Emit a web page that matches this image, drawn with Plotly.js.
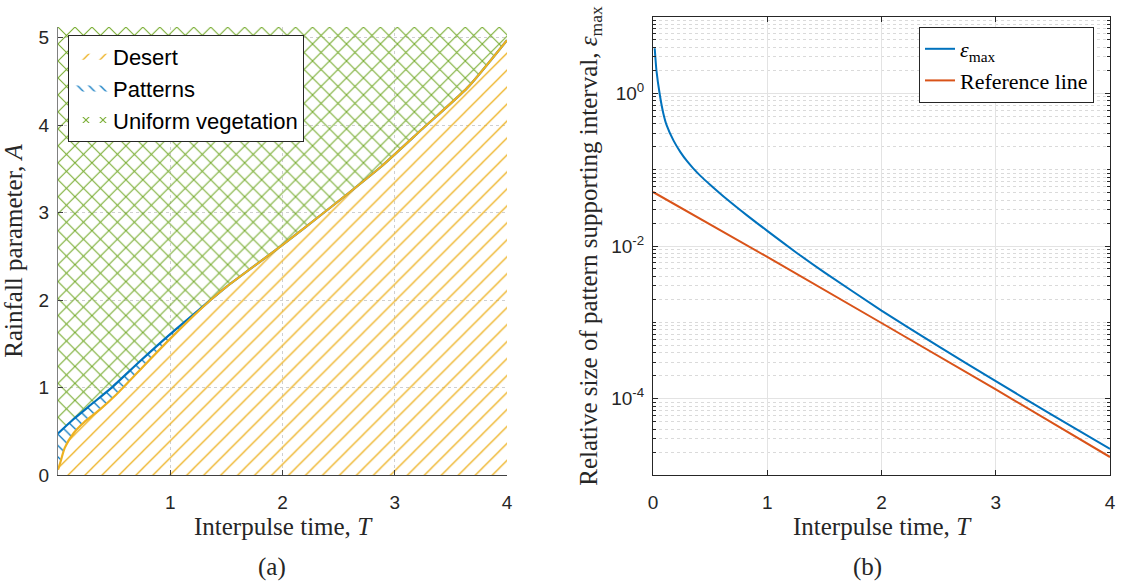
<!DOCTYPE html>
<html><head><meta charset="utf-8">
<script src="https://cdn.plot.ly/plotly-3.0.1.min.js"></script>
<style>html,body{margin:0;padding:0;background:#fff;} #chart{width:1122px;height:581px;}</style>
</head><body><div id="chart"></div>
<script>
// ---- Panel (a): phase diagram ----
const desertT = [0, 0.02, 0.06, 0.14, 0.23, 0.375, 0.52, 0.73, 1.0, 1.36, 1.5, 1.98, 2.43, 2.875, 3.25, 3.65, 4.0];
const desertA = [0.06, 0.14, 0.31, 0.48, 0.60, 0.75, 0.92, 1.20, 1.56, 2.0, 2.15, 2.61, 3.06, 3.52, 3.96, 4.43, 4.97];
const patternT = [0, 0.14, 0.29, 0.47, 0.73, 1.0, 1.36, 1.5, 1.98, 2.43, 2.875, 3.25, 3.65, 4.0];
const patternA = [0.475, 0.64, 0.80, 0.99, 1.30, 1.61, 2.0, 2.15, 2.61, 3.06, 3.52, 3.96, 4.43, 4.97];
const regionNames = ['Desert', 'Patterns', 'Uniform vegetation'];
const aRange = [0, 5.12];
const xTicksA = [1, 2, 3, 4];
const yTicksA = [0, 1, 2, 3, 4, 5];

// ---- Panel (b): relative size of pattern supporting interval ----
const epsT = [0.015, 0.03, 0.06, 0.09, 0.12, 0.18, 0.24, 0.3, 0.35, 0.42, 0.5, 0.65, 0.82, 1.0, 1.25, 1.5, 2.0, 2.5, 3.0, 3.5, 4.0];
const epsMax = [3.9, 2.0, 0.95, 0.55, 0.38, 0.24, 0.17, 0.128, 0.105, 0.0817, 0.0636, 0.0406, 0.02535, 0.0158, 0.0083, 0.00451, 0.001426, 0.000483, 0.0001694, 0.0000604, 0.00002195];
const refT = [0, 1, 2, 3, 4];
const refLine = [0.051, 0.0072, 0.00098, 0.000132, 0.0000172];
const xTicksB = [0, 1, 2, 3, 4];
const yTicksB = [1e-4, 1e-2, 1];
const yTickTextB = ['10<sup>-4</sup>', '10<sup>-2</sup>', '10<sup>0</sup>'];
const lineNames = ['<i>ε</i><sub>max</sub>', 'Reference line'];

const C = {blue: '#0072BD', orange: '#EDB120', green: '#77AC30', red: '#D95319', ink: '#262626'};
const serif = 'Liberation Serif, Times New Roman, serif';
const sans = 'Liberation Sans, Arial, sans-serif';

const minorB = [];
for (let p = -5; p <= 0; p++) for (let k = 1; k <= 9; k++) {
  const v = k * Math.pow(10, p);
  if (!yTicksB.some(t => Math.abs(t - v) / v < 1e-9)) minorB.push(v);
}
minorB.push(10);

const traces = [
  {x: desertT, y: desertA, xaxis: 'x', yaxis: 'y', mode: 'none', fill: 'tozeroy', line: {shape: 'spline', smoothing: 0.6},
   fillcolor: 'rgba(0,0,0,0)', fillpattern: {shape: '/', fgcolor: C.orange, bgcolor: 'rgba(0,0,0,0)', size: 12, solidity: 0.11},
   name: regionNames[0], legend: 'legend', hoverinfo: 'skip'},
  {x: patternT, y: patternA, xaxis: 'x', yaxis: 'y', mode: 'none', fill: 'tonexty', line: {shape: 'spline', smoothing: 0.6},
   fillcolor: 'rgba(0,0,0,0)', fillpattern: {shape: '\\', fgcolor: C.blue, bgcolor: 'rgba(0,0,0,0)', size: 8, solidity: 0.15},
   name: regionNames[1], legend: 'legend', hoverinfo: 'skip'},
  {x: [patternT[0], patternT[patternT.length - 1]], y: [aRange[1], aRange[1]], xaxis: 'x', yaxis: 'y', mode: 'none', fill: 'tonexty',
   fillcolor: 'rgba(0,0,0,0)', fillpattern: {shape: 'x', fgcolor: C.green, bgcolor: 'rgba(0,0,0,0)', size: 12, solidity: 0.17},
   name: regionNames[2], legend: 'legend', hoverinfo: 'skip'},
  {x: patternT, y: patternA, xaxis: 'x', yaxis: 'y', mode: 'lines', line: {color: C.blue, width: 2.2, shape: 'spline', smoothing: 0.6}, showlegend: false},
  {x: desertT, y: desertA, xaxis: 'x', yaxis: 'y', mode: 'lines', line: {color: C.orange, width: 2.2, shape: 'spline', smoothing: 0.6}, showlegend: false},
  {x: epsT, y: epsMax, xaxis: 'x2', yaxis: 'y2', mode: 'lines', line: {color: C.blue, width: 2, shape: 'spline', smoothing: 0.5}, name: lineNames[0], legend: 'legend2'},
  {x: refT, y: refLine, xaxis: 'x2', yaxis: 'y2', mode: 'lines', line: {color: C.red, width: 2}, name: lineNames[1], legend: 'legend2'}
];

const tickfont = {family: sans, size: 19, color: C.ink};
const titlefont = {family: serif, size: 25, color: C.ink};

const layout = {
  width: 1122, height: 581, margin: {l: 0, r: 0, t: 0, b: 0},
  paper_bgcolor: '#fff', plot_bgcolor: '#fff', showlegend: true,
  xaxis: {domain: [58/1122, 507/1122], range: [0, 4], anchor: 'y', tickmode: 'array', tickvals: xTicksA,
    ticks: 'inside', ticklen: 5, tickcolor: '#404040', showline: true, linecolor: '#404040', linewidth: 1,
    showgrid: true, gridcolor: '#cfcfcf', griddash: 'dot', zeroline: false, tickfont: tickfont, ticklabelstandoff: 10,
    title: {text: 'Interpulse time, <i>T</i>', font: titlefont, standoff: 4}},
  yaxis: {domain: [106/581, 554/581], range: aRange, anchor: 'x', tickmode: 'array', tickvals: yTicksA,
    ticks: 'inside', ticklen: 5, tickcolor: '#404040', showline: true, linecolor: '#808080', linewidth: 1,
    showgrid: true, gridcolor: '#cfcfcf', griddash: 'dot', zeroline: false, tickfont: tickfont, ticklabelstandoff: 4,
    title: {text: 'Rainfall parameter, <i>A</i>', font: titlefont, standoff: 8}},
  xaxis2: {domain: [653/1122, 1110/1122], range: [0, 4], anchor: 'y2', tickmode: 'array', tickvals: xTicksB,
    ticks: 'inside', ticklen: 5, tickcolor: C.ink, showline: true, linecolor: C.ink, linewidth: 1, mirror: 'ticks',
    showgrid: true, gridcolor: '#e3e3e3', zeroline: false, tickfont: tickfont, ticklabelstandoff: 10,
    title: {text: 'Interpulse time, <i>T</i>', font: titlefont, standoff: 4}},
  yaxis2: {domain: [106/581, 564/581], type: 'log', range: [-5, 1], anchor: 'x2', tickmode: 'array', tickvals: yTicksB, ticktext: yTickTextB,
    ticks: 'inside', ticklen: 5, tickcolor: C.ink, showline: true, linecolor: C.ink, linewidth: 1, mirror: 'ticks',
    showgrid: true, gridcolor: '#e3e3e3', zeroline: false, tickfont: tickfont, ticklabelstandoff: 4,
    minor: {tickmode: 'array', tickvals: minorB, ticks: 'inside', ticklen: 3, tickcolor: C.ink, showgrid: true, gridcolor: '#dadada', griddash: 'dot'},
    title: {text: 'Relative size of pattern supporting interval, <i>ε</i><sub>max</sub>', font: titlefont, standoff: 6}},
  legend: {x: 68/1122, y: 546/581, xanchor: 'left', yanchor: 'top', bgcolor: '#fff', bordercolor: C.ink, borderwidth: 1,
    font: {family: sans, size: 22, color: '#000'}, itemwidth: 34, tracegroupgap: 0, traceorder: 'normal'},
  legend2: {x: 919/1122, y: 554/581, xanchor: 'left', yanchor: 'top', bgcolor: '#fff', bordercolor: C.ink, borderwidth: 1,
    font: {family: serif, size: 22, color: '#000'}, itemwidth: 30, tracegroupgap: 0, traceorder: 'normal'},
  annotations: [
    {text: '(a)', x: 272/1122, y: 14/581, xref: 'paper', yref: 'paper', showarrow: false, xanchor: 'center', yanchor: 'middle', font: titlefont},
    {text: '(b)', x: 868/1122, y: 14/581, xref: 'paper', yref: 'paper', showarrow: false, xanchor: 'center', yanchor: 'middle', font: titlefont}
  ]
};

Plotly.newPlot('chart', traces, layout, {displayModeBar: false, staticPlot: true});
</script>
</body></html>
